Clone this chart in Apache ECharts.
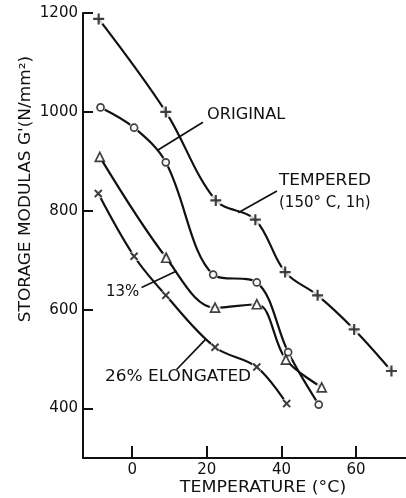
<!DOCTYPE html>
<html>
<head>
<meta charset="utf-8">
<script src="https://cdn.jsdelivr.net/npm/echarts@6/dist/echarts.min.js"></script>
<style>
  html, body { margin: 0; padding: 0; background: #fff; }
  #chart { width: 406px; height: 498px; }
</style>
</head>
<body>
<div id="chart"></div>
<script>
// Storage modulus G' (N/mm^2) versus temperature (°C)
const tempered   = [[-9, 1188], [9, 1000], [22.4, 821], [33, 782], [41, 676], [49.7, 629], [59.5, 560], [69.5, 476]];
const original   = [[-8.5, 1009], [0.5, 968], [9, 898], [21.7, 671], [33.4, 655], [41.8, 514], [50, 408]];
const elong13    = [[-8.7, 909], [9.1, 705], [22.2, 604], [33.4, 611], [41.2, 499], [50.8, 443]];
const elong26    = [[-9.1, 835], [0.5, 708], [9, 629], [22.2, 524], [33.4, 484], [41.4, 410]];

const xTicks = [0, 20, 40, 60];
const yTicks = [400, 600, 800, 1000, 1200];

// Leader lines from each caption to its curve (data coordinates)
const leaders = [
  [[18.95, 979], [6.9, 923]],
  [[38.8, 840], [28.4, 796]],
  [[2.5, 645], [11.9, 678]],
  [[11.9, 479], [19.8, 541]]
];

const INK = '#111';
const FONT = 'DejaVu Sans';
const FS = 15;
const WIDE = 1.13; // horizontal stretch for the lettering
const PLUS = 'path://M4,0H6V4H10V6H6V10H4V6H0V4H4Z';

function curve(name, data) {
  return {
    name, type: 'line', data, smooth: 0.35, symbol: 'none', z: 2,
    lineStyle: { color: INK, width: 2.2 }, silent: true
  };
}
function gaps(data, size) {
  return {
    type: 'scatter', data, symbol: 'circle', symbolSize: size, z: 3, silent: true,
    itemStyle: { color: '#fff' }
  };
}
function marks(data, symbol, size, rotate, hollow) {
  return {
    type: 'scatter', data, symbol, symbolSize: size, symbolRotate: rotate || 0, z: 4, silent: true,
    itemStyle: hollow ? { color: '#fff', borderColor: INK, borderWidth: 1.7 } : { color: INK }
  };
}
function caption(text, opts, stretch) {
  return Object.assign({ type: 'text', scaleX: stretch || WIDE,
    style: { text, fontSize: FS, fontFamily: FONT, fill: INK } }, opts);
}

const leaderSeries = {
  type: 'lines', coordinateSystem: 'cartesian2d', z: 2, silent: true,
  lineStyle: { color: INK, width: 1.7, opacity: 1 },
  data: leaders.map(l => ({ coords: l }))
};

const chart = echarts.init(document.getElementById('chart'), null, { renderer: 'canvas' });
chart.setOption({
  animation: false,
  backgroundColor: '#fff',
  grid: { left: 83, right: 0, top: 13, bottom: 40 },
  xAxis: {
    type: 'value', min: -13.2, max: 73.4,
    axisLine: { show: true, onZero: false, lineStyle: { color: INK, width: 2 } },
    axisTick: { show: true, inside: true, length: 12, customValues: xTicks, lineStyle: { color: INK, width: 2 } },
    axisLabel: { customValues: xTicks, formatter: v => String(v), color: INK, fontSize: FS, fontFamily: FONT, margin: 5 },
    splitLine: { show: false }
  },
  yAxis: {
    type: 'value', min: 300, max: 1200,
    axisLine: { show: true, onZero: false, lineStyle: { color: INK, width: 2 } },
    axisTick: { show: true, inside: true, length: 10, customValues: yTicks, lineStyle: { color: INK, width: 2 } },
    axisLabel: { customValues: yTicks, formatter: v => String(v), color: INK, fontSize: FS, fontFamily: FONT, margin: 5 },
    splitLine: { show: false }
  },
  series: [
    curve('TEMPERED', tempered),
    curve('ORIGINAL', original),
    curve('13%', elong13),
    curve('26% ELONGATED', elong26),
    leaderSeries,
    gaps(tempered, 12), gaps(original, 10), gaps(elong13, 11), gaps(elong26, 11),
    marks(tempered, PLUS, 11),
    marks(original, 'circle', 7, 0, true),
    marks(elong13, 'triangle', 9, 0, true),
    marks(elong26, PLUS, 10, 45)
  ],
  graphic: [
    caption('ORIGINAL', { left: 207, top: 108 }, 1.08),
    caption('TEMPERED', { left: 279, top: 174 }),
    caption('(150° C, 1h)', { left: 279, top: 196 }, 1.0),
    caption('13%', { left: 106, top: 285 }, 1.0),
    caption('26% ELONGATED', { left: 105, top: 370 }),
    { type: 'text', x: 26, y: 189, rotation: Math.PI / 2, scaleX: WIDE,
      style: { text: "STORAGE MODULAS G'(N/mm²)", fontSize: FS, fontFamily: FONT, fill: INK, align: 'center', verticalAlign: 'middle' } },
    { type: 'text', x: 263, y: 488, scaleX: 1.16,
      style: { text: 'TEMPERATURE (°C)', fontSize: FS, fontFamily: FONT, fill: INK, align: 'center', verticalAlign: 'middle' } }
  ]
});
</script>
</body>
</html>
